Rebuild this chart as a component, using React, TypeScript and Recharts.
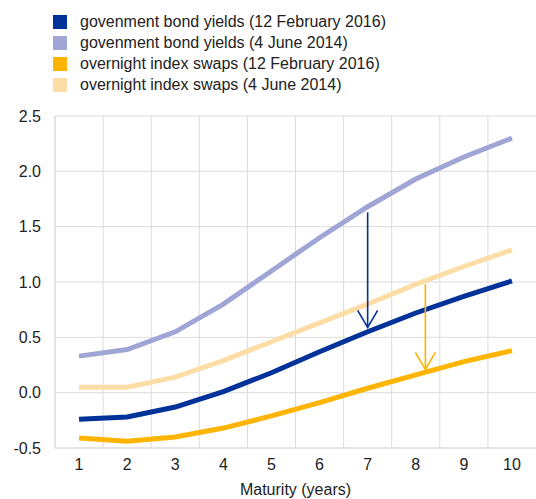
import React from "react";
import {
  LineChart,
  Line,
  CartesianGrid,
  XAxis,
  YAxis,
  ReferenceLine,
  Label,
} from "recharts";

const years = [1, 2, 3, 4, 5, 6, 7, 8, 9, 10];
const govBond2016 = [-0.24, -0.22, -0.13, 0.01, 0.18, 0.37, 0.55, 0.72, 0.87, 1.01];
const govBond2014 = [0.33, 0.39, 0.55, 0.8, 1.1, 1.4, 1.68, 1.93, 2.13, 2.3];
const ois2016 = [-0.41, -0.44, -0.4, -0.32, -0.21, -0.09, 0.04, 0.16, 0.28, 0.38];
const ois2014 = [0.05, 0.05, 0.14, 0.29, 0.46, 0.63, 0.8, 0.98, 1.14, 1.29];
const yTicks = [-0.5, 0, 0.5, 1, 1.5, 2, 2.5];

// arrows: [x, yFrom, yTo]
const govArrow = [7, 1.63, 0.59];
const oisArrow = [8.2, 0.98, 0.21];

const series = [
  { key: "gov2016", name: "govenment bond yields (12 February 2016)", color: "#003299" },
  { key: "gov2014", name: "govenment bond yields (4 June 2014)", color: "#9FA6D6" },
  { key: "ois2016", name: "overnight index swaps (12 February 2016)", color: "#FFB400" },
  { key: "ois2014", name: "overnight index swaps (4 June 2014)", color: "#FDDDA6" },
];

const data = years.map((year, i) => ({
  year,
  gov2016: govBond2016[i],
  gov2014: govBond2014[i],
  ois2016: ois2016[i],
  ois2014: ois2014[i],
}));

const font = "'Liberation Sans', Arial, sans-serif";

function arrowShape(color: string) {
  return (props: any) => {
    const { x1, y1, x2, y2 } = props;
    return (
      <g>
        <line x1={x1} y1={y1} x2={x2} y2={y2} stroke={color} strokeWidth={1.6} />
        <polyline
          points={`${x2 - 10},${y2 - 17} ${x2},${y2} ${x2 + 10},${y2 - 17}`}
          fill="none"
          stroke={color}
          strokeWidth={1.6}
        />
      </g>
    );
  };
}

export default function App() {
  return (
    <div style={{ position: "absolute", left: 0, top: 0, width: 536, height: 499, fontFamily: font, background: "#fff" }}>
      <div style={{ position: "absolute", left: 53, top: 11, zIndex: 1 }}>
        {series.map((s) => (
          <div key={s.key} style={{ display: "flex", alignItems: "center", height: 21, fontSize: 16, color: "#222" }}>
            <span style={{ width: 14, height: 14, background: s.color, marginRight: 13 }} />
            <span>{s.name}</span>
          </div>
        ))}
      </div>
      <LineChart
        width={536}
        height={499}
        data={data}
        margin={{ top: 116, right: 0, left: 0, bottom: 0 }}
      >
        <CartesianGrid
          stroke="#dcdcdc"
          strokeWidth={1}
          verticalCoordinatesGenerator={({ offset }: any) =>
            years.map((_, i) => offset.left + (i * offset.width) / years.length)
          }
        />
        <XAxis
          dataKey="year"
          type="number"
          domain={[0.5, 10.5]}
          ticks={years}
          axisLine={{ stroke: "#dcdcdc" }}
          tickLine={false}
          tickMargin={5}
          height={51}
          tick={{ fill: "#222", fontSize: 16, fontFamily: font }}
        >
          <Label
            value="Maturity (years)"
            position="insideBottom"
            offset={4}
            style={{ fill: "#222", fontSize: 16, fontFamily: font }}
          />
        </XAxis>
        <YAxis
          type="number"
          domain={[-0.5, 2.5]}
          ticks={yTicks}
          tickFormatter={(v: number) => v.toFixed(1)}
          axisLine={{ stroke: "#dcdcdc" }}
          tickLine={false}
          tickMargin={8}
          width={55}
          tick={{ fill: "#222", fontSize: 16, fontFamily: font }}
        />
        <Line dataKey="ois2014" stroke="#FDDDA6" strokeWidth={5} dot={false} isAnimationActive={false} />
        <Line dataKey="gov2014" stroke="#9FA6D6" strokeWidth={5} dot={false} isAnimationActive={false} />
        <Line dataKey="ois2016" stroke="#FFB400" strokeWidth={5} dot={false} isAnimationActive={false} />
        <Line dataKey="gov2016" stroke="#003299" strokeWidth={5} dot={false} isAnimationActive={false} />
        <ReferenceLine
          segment={[{ x: govArrow[0], y: govArrow[1] }, { x: govArrow[0], y: govArrow[2] }]}
          shape={arrowShape("#003299")}
        />
        <ReferenceLine
          segment={[{ x: oisArrow[0], y: oisArrow[1] }, { x: oisArrow[0], y: oisArrow[2] }]}
          shape={arrowShape("#FFB400")}
        />
      </LineChart>
    </div>
  );
}
